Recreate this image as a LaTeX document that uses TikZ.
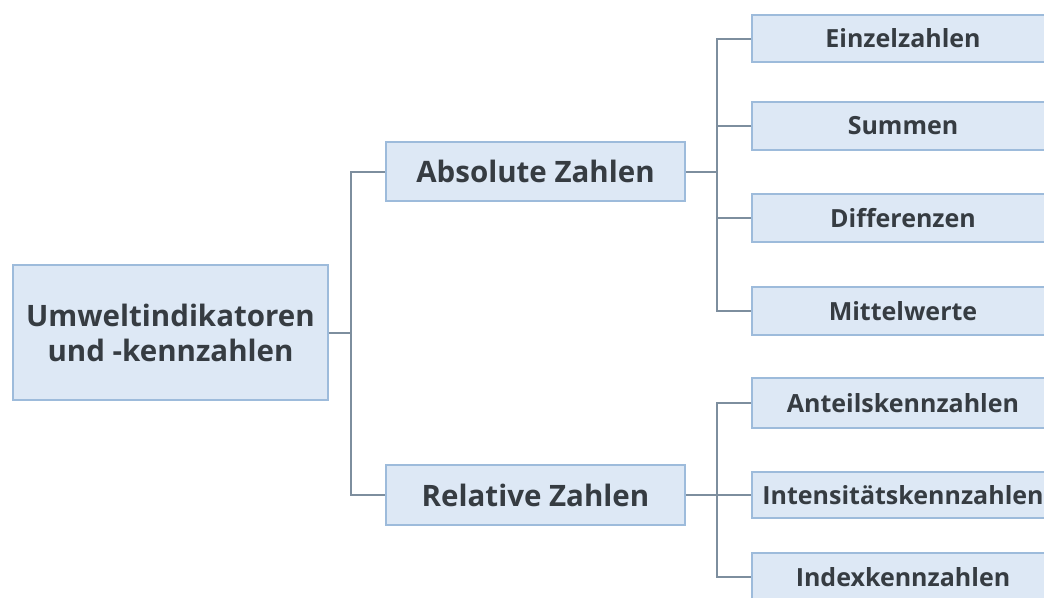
\documentclass[tikz,border=0pt]{standalone}
\usepackage{fontspec}
\setmainfont{Open Sans}
\definecolor{boxfill}{HTML}{DDE8F5}
\definecolor{boxline}{HTML}{9DBBDB}
\definecolor{conn}{HTML}{7D8E9E}
\definecolor{txt}{HTML}{363C42}
\tikzset{
  box/.style={draw=boxline, fill=boxfill, line width=1.5pt, inner sep=0pt, text=txt, font=\bfseries, align=center},
  bigtext/.style={font=\fontsize{29.5}{35}\selectfont\bfseries},
  leaftext/.style={font=\fontsize{25}{30}\selectfont\bfseries},
  conline/.style={draw=conn, line width=2pt}
}
\begin{document}
\begin{tikzpicture}[x=1pt,y=-1pt]
\useasboundingbox[fill=white] (0,0) rectangle (1044,597);
% root
\node[box, bigtext, minimum width=315pt, minimum height=135pt] (root) at (170.5,332.5) {Umweltindikatoren\\und -kennzahlen};
% mid level
\node[box, bigtext, minimum width=299pt, minimum height=59pt] (abs) at (535.5,171.5) {Absolute Zahlen};
\node[box, bigtext, minimum width=299pt, minimum height=60pt] (rel) at (535.5,495) {Relative Zahlen};
% leaves
\node[box, leaftext, minimum width=302pt, minimum height=47pt] (l1) at (903,38.5) {Einzelzahlen};
\node[box, leaftext, minimum width=302pt, minimum height=48pt] (l2) at (903,126) {Summen};
\node[box, leaftext, minimum width=302pt, minimum height=48pt] (l3) at (903,218) {Differenzen};
\node[box, leaftext, minimum width=302pt, minimum height=48pt] (l4) at (903,311) {Mittelwerte};
\node[box, leaftext, minimum width=302pt, minimum height=50pt] (l5) at (903,403) {Anteilskennzahlen};
\node[box, leaftext, minimum width=302pt, minimum height=46pt] (l6) at (903,495) {Intensitätskennzahlen};
\node[box, leaftext, minimum width=302pt, minimum height=48pt] (l7) at (903,577) {Indexkennzahlen};
% junctions
\coordinate (j1) at (351,332.5);
\coordinate (j2) at (717,171.5);
\coordinate (j3) at (717,495);
% connectors
\draw[conline] (root.east) -- (j1);
\draw[conline] (abs.west) -| (j1) |- (rel.west);
\draw[conline] (abs.east) -- (j2);
\draw[conline] (l1.west) -| (j2) |- (l4.west);
\draw[conline] (l2.west) -- (l2.west -| j2);
\draw[conline] (l3.west) -- (l3.west -| j2);
\draw[conline] (rel.east) -- (l6.west);
\draw[conline] (l5.west) -| (j3) |- (l7.west);
\end{tikzpicture}
\end{document}
